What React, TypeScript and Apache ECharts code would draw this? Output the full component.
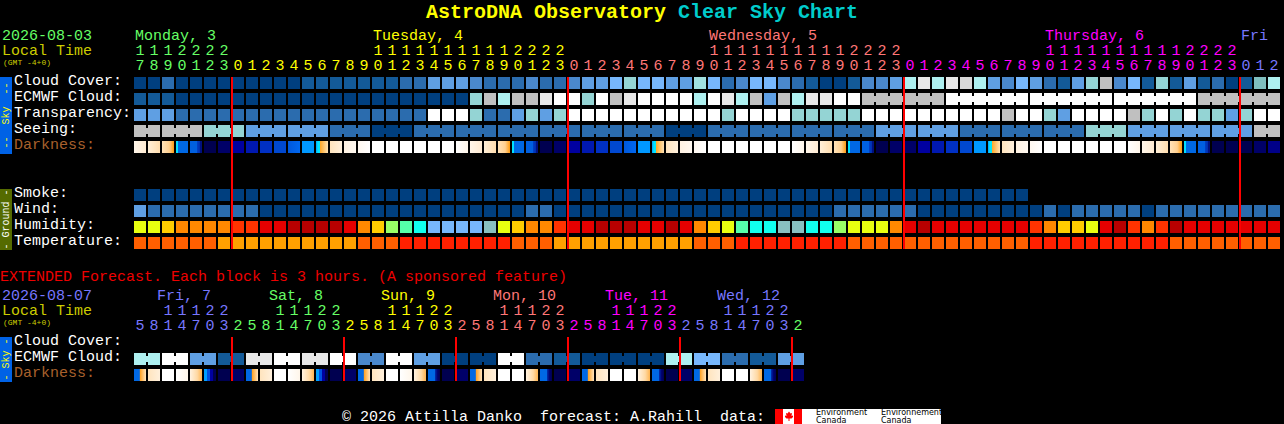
import React, { useEffect, useRef } from "react";
import * as echarts from "echarts";

// ---------- palettes ----------
const cloudScale = ["#003F7F","#135A98","#2B6CAE","#4A88CC","#5F9FE3","#77B7FC","#94D4D4","#AEF0F0","#C0C0C0","#E8E8E8","#FFFFFF","#D8D8D8","#7FBFBF","#A0E0E0"];
const humidityScale = ["#E8FF10","#FFCC00","#FF8800","#FF3300","#E60000","#B80000","#99FF66","#55FFAA","#11FFEE","#77B7FC","#88C0C0"];
const temperatureScale = ["#FF5F00","#FFA000","#FF2000"];
const darknessStops: Record<string, [number, string][]> = {
  w: [[0,"#FFFFFF"],[1,"#FFFFFF"]],
  p: [[0,"#FFFFFF"],[1,"#FFF6EA"]],
  q: [[0,"#FFF6EA"],[1,"#FFEBD2"]],
  r: [[0,"#FFEFD8"],[1,"#FFDDAE"]],
  s: [[0,"#FFE2B8"],[0.6,"#FFD090"],[1,"#FF9C10"]],
  S: [[0,"#FFF2E0"],[0.6,"#FFD9A4"],[1,"#FFB450"]],
  D: [[0,"#00E0FF"],[0.16,"#00E0FF"],[0.17,"#0068E4"],[1,"#0068E4"]],
  B: [[0,"#0060E0"],[0.55,"#0060E0"],[0.58,"#0040C8"],[0.8,"#0030B0"],[0.85,"#001080"],[1,"#001080"]],
  n0: [[0,"#000050"],[1,"#000050"]],
  n1: [[0,"#000068"],[1,"#000068"]],
  n2: [[0,"#0000A0"],[1,"#0000A0"]],
  n3: [[0,"#0018B0"],[1,"#0018B0"]],
  n4: [[0,"#0030C4"],[1,"#0030C4"]],
  n5: [[0,"#0048D0"],[1,"#0048D0"]],
  n6: [[0,"#0058DC"],[1,"#0068F0"]],
  n7: [[0,"#0098FF"],[1,"#0098FF"]],
  n8: [[0,"#000088"],[1,"#000088"]],
  A: [[0,"#00A0FF"],[0.16,"#00E6FF"],[0.3,"#00E6FF"],[0.34,"#FFA828"],[1,"#FFE2B4"]],
  t: [[0,"#FFE4BE"],[1,"#FFF0DC"]],
  u: [[0,"#FFF2E2"],[1,"#FFF8F0"]],
  v: [[0,"#FFF8F0"],[1,"#FFFFFF"]],
  X: [[0,"#0068E4"],[0.45,"#0068E4"],[0.5,"#FFA020"],[1,"#FFE4BE"]],
  Y: [[0,"#00A0FF"],[0.25,"#00A0FF"],[0.26,"#0050E0"],[0.5,"#0050E0"],[0.51,"#0000A0"],[0.75,"#0000A0"],[0.76,"#000050"],[1,"#000050"]],
  Z: [[0,"#0068E4"],[0.55,"#0068E4"],[0.58,"#0030B0"],[0.8,"#000070"],[1,"#000050"]],
};

// ---------- main forecast: hourly columns ----------
const hourUnits = ["7","8","9","0","1","2","3","0","1","2","3","4","5","6","7","8","9","0","1","2","3","4","5","6","7","8","9","0","1","2","3","0","1","2","3","4","5","6","7","8","9","0","1","2","3","4","5","6","7","8","9","0","1","2","3","0","1","2","3","4","5","6","7","8","9","0","1","2","3","4","5","6","7","8","9","0","1","2","3","0","1","2"];
const hourTens = ["1","1","1","2","2","2","2","","","","","","","","","","","1","1","1","1","1","1","1","1","1","1","2","2","2","2","","","","","","","","","","","1","1","1","1","1","1","1","1","1","1","2","2","2","2","","","","","","","","","","","1","1","1","1","1","1","1","1","1","1","2","2","2","2","","",""];
const dayColors = { green: "#66FF66", yellow: "#FFFF00", salmon: "#FF7777", magenta: "#FF00FF", blue: "#7777FF" };
const hourColorRuns: [number, string][] = [[7,dayColors.green],[24,dayColors.yellow],[24,dayColors.salmon],[24,dayColors.magenta],[3,dayColors.blue]];
const mainDays: [string, number, string][] = [["Monday, 3",0,dayColors.green],["Tuesday, 4",17,dayColors.yellow],["Wednesday, 5",41,dayColors.salmon],["Thursday, 6",65,dayColors.magenta],["Fri",79,dayColors.blue]];
const mainRowNames = ["Cloud Cover:","ECMWF Cloud:","Transparency:","Seeing:","Darkness:","","","Smoke:","Wind:","Humidity:","Temperature:"];
const midnightCols = [7,31,55,79];

const cloudCover = [0,0,2,0,0,0,0,0,0,0, 0,0,1,1,1,1,1,1,1,2, 2,4,4,4,3,2,2,2,3,2, 2,3,4,4,5,6,5,5,4,4, 13,5,2,3,5,5,3,2,1,0, 0,1,3,3,4,7,9,7,9,11, 7,4,3,5,4,2,1,4,6,8, 3,5,1,6,1,4,1,2,0,1, 12,7];
const ecmwfCloud = [1,1,1,0,0,0,0,0,0,0, 0,0,0,0,0,0,0,0,0,0, 0,0,0,0,6,8,7,8,8,9, 10,10,6,10,8,9,10,10,10,10, 7,10,9,7,8,4,8,7,9,9, 10,10,8,8,8,8,8,8,10,10, 10,10,10,10,10,10,10,10,10,10, 10,10,10,10,10,10,8,8,8,8, 8,8];
const ecmwfBlocks = [52,58,64,70,76];
const transparency = [4,4,4,2,2,2,2,2,2,2, 2,2,2,2,2,2,2,2,2,2, 2,10,10,10,6,2,2,4,6,4, 6,10,10,10,10,10,10,10,10,10, 10,10,6,10,10,10,10,6,6,6, 6,6,10,10,10,10,10,10,10,10, 10,10,8,10,10,6,4,10,10,10, 10,8,6,10,6,10,6,6,4,6, 10,10];
const seeing = [8,8,8,8,8,6,6,6,4,4, 4,4,4,4,2,2,2,0,0,0, 2,2,2,2,2,2,2,2,2,2, 2,2,2,2,2,2,2,2,0,0, 0,2,2,2,2,2,2,2,2,2, 2,2,2,4,4,4,4,4,4,2, 2,2,2,2,2,2,2,2,6,6, 6,4,4,4,4,4,4,4,4,4, 8,8];
const seeingBlocks = [0,2,5,8,11,14,17,20,23,26,29,32,35,38,41,44,47,50,53,56,59,62,65,68,71,74,77,80];
const darkness = ["q","r","s","D","B","n0","n1","n2","n3","n4","n5","n6","n7","A","t","u","v","w","w","w","w","w","w","p",
  "q","r","s","D","B","n0","n1","n2","n3","n4","n5","n6","n7","A","t","u","v","w","w","w","w","w","w","p",
  "q","r","s","D","B","n0","n1","n1","n2","n3","n4","n5","n7","A","t","u","v","w","w","w","w","w","w","p",
  "q","r","s","D","B","n0","n0","n0","n1","n8"];
const smoke = [0,0,0,0,0,0,0,0,0,0, 0,0,0,0,0,0,0,0,0,0, 0,0,0,0,0,0,0,0,0,0, 0,0,0,0,0,0,0,0,0,0, 0,0,0,0,0,0,0,0,0,0, 0,0,0,0,0,0,0,0,0,0, 0,0,0,0];
const wind = [4,2,2,2,2,2,2,2,2,0, 0,0,0,0,0,0,0,0,0,0, 0,0,0,0,0,0,0,0,2,2, 0,0,0,0,0,0,0,0,0,0, 0,0,0,0,0,0,0,0,0,0, 2,2,2,2,2,2,0,0,0,0, 0,0,0,0,0,2,0,2,2,2, 2,2,0,2,2,2,2,2,2,2, 2,2];
const humidity = [0,0,1,2,2,2,2,3,3,4, 4,5,5,5,5,4,2,1,6,7, 8,9,9,9,9,10,0,1,2,2, 3,4,4,5,5,5,4,4,5,4, 2,1,0,7,8,8,10,10,8,8, 6,0,0,0,2,4,5,4,4,4, 4,4,4,4,3,2,1,1,0,4, 5,3,2,3,5,4,4,4,4,4, 4,4];
const temperature = [0,0,0,0,0,0,1,1,1,1, 1,1,1,1,1,1,0,0,0,2, 2,2,2,2,2,2,2,0,0,0, 1,1,1,1,1,1,1,1,1,1, 0,0,0,2,2,2,2,2,2,2, 2,0,0,0,0,0,0,0,0,0, 0,0,0,0,2,2,2,2,2,2, 2,2,2,2,0,0,0,0,0,0, 0,0];

// ---------- extended forecast: 3-hour columns ----------
const extUnits = ["5","8","1","4","7","0","3","2","5","8","1","4","7","0","3","2","5","8","1","4","7","0","3","2","5","8","1","4","7","0","3","2","5","8","1","4","7","0","3","2","5","8","1","4","7","0","3","2"];
const extTens = ["","","1","1","1","2","2","","","","1","1","1","2","2","","","","1","1","1","2","2","","","","1","1","1","2","2","","","","1","1","1","2","2","","","","1","1","1","2","2",""];
const extColorRuns: [number, string][] = [[7,dayColors.blue],[8,dayColors.green],[8,dayColors.yellow],[8,dayColors.salmon],[8,dayColors.magenta],[8,dayColors.blue],[1,dayColors.green]];
const extDays: [string, number, string][] = [["Fri, 7",1.64,dayColors.blue],["Sat, 8",9.64,dayColors.green],["Sun, 9",17.64,dayColors.yellow],["Mon, 10",25.64,dayColors.salmon],["Tue, 11",33.64,dayColors.magenta],["Wed, 12",41.64,dayColors.blue]];
const extRowNames = ["Cloud Cover:","ECMWF Cloud:","Darkness:"];
const extMidnightCols = [7,15,23,31,39,47];
const extEcmwf = [7,7,10,10,4,4,1,1,9,9,10,10,9,9,10,10,3,3,10,10,4,4,0,0,0,0,10,10,2,2,1,1,0,0,0,0,0,0,7,7,5,5,2,2,1,1,4,4];
const extBlocks = [0,2,4,6,8,10,12,14,16,18,20,22,24,26,28,30,32,34,36,38,40,42,44,46];
const extDarkness = ["X","t","w","p","S","Y","n0","n1","X","t","w","p","S","Y","n0","n1","X","t","w","p","S","Z","n0","n1","X","t","w","w","S","Z","n0","n1","X","t","w","w","S","Z","n0","n1","X","t","w","w","S","Z","n0","n1"];

// ---------- fixed texts ----------
const titleLeft = "AstroDNA Observatory";
const titleRight = "Clear Sky Chart";
const mainDate = "2026-08-03";
const extDate = "2026-08-07";
const localTime = "Local Time";
const gmtNote = "(GMT -4+0)";
const extendedNote = "EXTENDED Forecast. Each block is 3 hours. (A sponsored feature)";
const footer = "\u00A9 2026 Attilla Danko  forecast: A.Rahill  data:";

const MONO = "'Liberation Mono', monospace";
const BROWN = "#A8602C";
const LOCAL = "#CCCC00";
const GRID_LEFT = 133;
const PITCH = 14;
const LEAF = [[789,411.5],[790.5,413.5],[792,413],[791.5,416],[793,415.5],[793,417],[791.5,418.5],[789.5,418.5],[789.5,421],[788.5,421],[788.5,418.5],[786.5,418.5],[785,417],[785,415.5],[786.5,416],[786,413],[787.5,413.5]];

function runColor(runs: [number, string][], index: number) {
  let end = 0;
  for (const [n, c] of runs) { end += n; if (index < end) return c; }
  return "#FFFFFF";
}

function cellSeries(name: string, xi: number, yi: number, row: number, fills: any[], blocks?: number[]) {
  const starts = blocks ? new Set(blocks) : null;
  return {
    type: "custom", name, xAxisIndex: xi, yAxisIndex: yi, clip: false, z: 2,
    encode: { x: 0, y: 1 },
    data: fills.map((_, col) => [col, row]),
    renderItem: (params: any, api: any) => {
      const col = api.value(0);
      const c = api.coord([col, api.value(1)]);
      const band = api.size([1, 1]);
      const w = band[0] - 2, h = band[1] - 4;
      const fill = fills[col];
      const children: any[] = [{ type: "rect", shape: { x: c[0] - w / 2, y: c[1] - h / 2, width: w, height: h }, style: { fill } }];
      if (starts && col < fills.length - 1 && !starts.has(col + 1)) {
        children.push({ type: "rect", shape: { x: c[0] + w / 2, y: c[1] - 3, width: 2, height: 6 }, style: { fill } });
      }
      return { type: "group", children };
    },
  };
}

function lineSeries(xi: number, yi: number, cols: number[], lastRow: number) {
  return {
    type: "custom", name: "midnight", xAxisIndex: xi, yAxisIndex: yi, clip: false, z: 5,
    encode: { x: 0, y: 1 },
    data: cols.map((col) => [col, 0]),
    renderItem: (params: any, api: any) => {
      const top = api.coord([api.value(0), 0]);
      const bottom = api.coord([api.value(0), lastRow]);
      return { type: "rect", shape: { x: top[0] - 7, y: top[1] - 6, width: 2, height: bottom[1] - top[1] + 12 }, style: { fill: "#FF0000" } };
    },
  };
}

function gradient(code: string) {
  return new echarts.graphic.LinearGradient(0, 0, 1, 0, darknessStops[code].map(([offset, color]) => ({ offset, color })));
}

function topAxis(grid: number, data: string[], runs: [number, string][], offset: number) {
  return {
    type: "category", gridIndex: grid, position: "top", offset, data,
    axisLine: { show: false }, axisTick: { show: false }, splitLine: { show: false },
    axisLabel: { interval: 0, margin: 1, fontFamily: MONO, fontSize: 15, color: (_: any, i: number) => runColor(runs, i) },
  };
}

function rowAxis(grid: number, data: string[]) {
  return {
    type: "category", gridIndex: grid, inverse: true, data,
    axisLine: { show: false }, axisTick: { show: false }, splitLine: { show: false },
    axisLabel: {
      interval: 0, margin: 119, align: "left", fontFamily: MONO, fontSize: 15,
      formatter: (v: string) => (v ? (v === "Darkness:" ? `{d|${v}}` : `{w|${v}}`) : ""),
      rich: {
        w: { fontFamily: MONO, fontSize: 15, color: "#FFFFFF", padding: [0, 0, 4, 0] },
        d: { fontFamily: MONO, fontSize: 15, color: BROWN, padding: [0, 0, 4, 0] },
      },
    },
  };
}

function txt(text: string, x: number, y: number, fill: string, size = 15, extra: any = {}) {
  return { type: "text", x, y, silent: true, z: 10, style: { text, fill, font: `${size}px ${MONO}`, textVerticalAlign: "middle", ...extra } };
}

function band(x: number, y: number, h: number, fill: string, label: string, color: string) {
  return [
    { type: "rect", z: 9, silent: true, shape: { x, y, width: 12, height: h }, style: { fill } },
    { type: "text", z: 10, silent: true, x: x + 6, y: y + h / 2, rotation: Math.PI / 2,
      style: { text: label, fill: color, font: `10px ${MONO}`, textAlign: "center", textVerticalAlign: "middle" } },
  ];
}

export default function App() {
  const ref = useRef<HTMLDivElement>(null);
  useEffect(() => {
    document.body.style.margin = "0";
    document.body.style.background = "#000";
    const chart = echarts.init(ref.current!, undefined, { renderer: "svg" });
    const cf = (a: number[]) => a.map((v) => cloudScale[v]);
    chart.setOption({
      animation: false,
      backgroundColor: "#000000",
      title: {
        left: 426, top: 2, padding: 0,
        text: `{a|${titleLeft}\u00A0}{b|${titleRight}}`,
        textStyle: { rich: {
          a: { fontFamily: MONO, fontSize: 20, fontWeight: "bold", color: "#FFFF00" },
          b: { fontFamily: MONO, fontSize: 20, fontWeight: "bold", color: "#00CCCC" },
        } },
      },
      grid: [
        { left: GRID_LEFT, top: 75, width: PITCH * hourUnits.length, height: 176 },
        { left: GRID_LEFT, top: 335, width: PITCH * extUnits.length, height: 48 },
      ],
      xAxis: [
        topAxis(0, hourUnits, hourColorRuns, 0),
        topAxis(0, hourTens, hourColorRuns, 15),
        topAxis(1, extUnits, extColorRuns, 0),
        topAxis(1, extTens, extColorRuns, 15),
      ],
      yAxis: [rowAxis(0, mainRowNames), rowAxis(1, extRowNames)],
      series: [
        cellSeries("Cloud Cover", 0, 0, 0, cf(cloudCover)),
        cellSeries("ECMWF Cloud", 0, 0, 1, cf(ecmwfCloud), [...Array(52).keys(), ...ecmwfBlocks]),
        cellSeries("Transparency", 0, 0, 2, cf(transparency)),
        cellSeries("Seeing", 0, 0, 3, cf(seeing), seeingBlocks),
        cellSeries("Darkness", 0, 0, 4, darkness.map(gradient)),
        cellSeries("Smoke", 0, 0, 7, cf(smoke)),
        cellSeries("Wind", 0, 0, 8, cf(wind)),
        cellSeries("Humidity", 0, 0, 9, humidity.map((v) => humidityScale[v])),
        cellSeries("Temperature", 0, 0, 10, temperature.map((v) => temperatureScale[v])),
        lineSeries(0, 0, midnightCols, 10),
        cellSeries("Extended ECMWF Cloud", 2, 1, 1, cf(extEcmwf), extBlocks),
        cellSeries("Extended Darkness", 2, 1, 2, extDarkness.map(gradient)),
        lineSeries(2, 1, extMidnightCols, 2),
      ],
      graphic: [
        txt(mainDate, 2, 36, dayColors.green),
        txt(localTime, 2, 51, LOCAL),
        txt(gmtNote, 3, 62, LOCAL, 8),
        ...mainDays.map(([t, col, c]) => txt(t, GRID_LEFT + 2 + PITCH * col, 36, c)),
        txt(extendedNote, 0, 277, "#EE0000"),
        txt(extDate, 2, 296, dayColors.blue),
        txt(localTime, 2, 311, LOCAL),
        txt(gmtNote, 3, 322, LOCAL, 8),
        ...extDays.map(([t, col, c]) => txt(t, GRID_LEFT + 1 + PITCH * col, 296, c)),
        ...band(0, 77, 77, "#0062E6", "--  Sky  --", "#FFFF00"),
        ...band(0, 189, 61, "#556B00", "- Ground -", "#FFFFFF"),
        ...band(0, 337, 45, "#0062E6", "- Sky -", "#FFFF00"),
        txt(footer, 342, 417, "#FFFFFF"),
        { type: "rect", z: 9, silent: true, shape: { x: 775, y: 409, width: 166, height: 15 }, style: { fill: "#FFFFFF" } },
        { type: "rect", z: 10, silent: true, shape: { x: 775, y: 409, width: 8, height: 15 }, style: { fill: "#FF0000" } },
        { type: "rect", z: 10, silent: true, shape: { x: 794, y: 409, width: 8, height: 15 }, style: { fill: "#FF0000" } },
        { type: "polygon", z: 10, silent: true, shape: { points: LEAF }, style: { fill: "#FF0000" } },
        ...[["Environment", 816], ["Environnement", 881]].map(([t, x]) => ({ type: "text", z: 10, silent: true, x, y: 412.5, style: { text: t, fill: "#000", font: "8px 'DejaVu Sans'", textVerticalAlign: "middle" } })),
        ...[816, 881].map((x) => ({ type: "text", z: 10, silent: true, x, y: 420.5, style: { text: "Canada", fill: "#000", font: "8px 'DejaVu Sans'", textVerticalAlign: "middle" } })),
      ],
    });
    return () => chart.dispose();
  }, []);
  return <div ref={ref} style={{ position: "fixed", left: 0, top: 0, width: 1284, height: 424 }} />;
}
